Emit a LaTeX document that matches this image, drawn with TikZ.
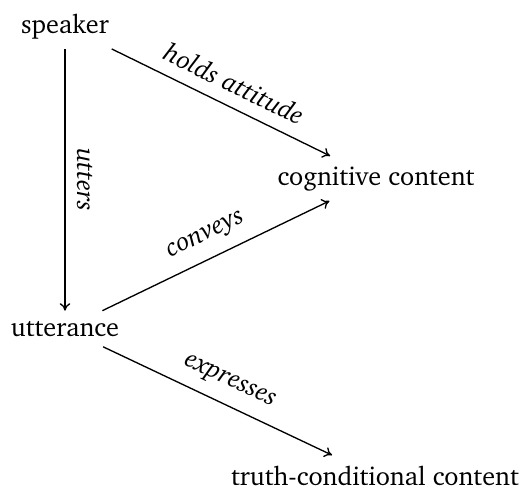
\documentclass[tikz,border=0pt]{standalone}
\usepackage[T1]{fontenc}
\usepackage{charter}
\usetikzlibrary{arrows.meta}
\begin{document}
\begin{tikzpicture}[x=0.45pt,y=-0.45pt,
  concept/.style={anchor=base,inner sep=4.5pt,font=\fontsize{11.8}{14}\selectfont},
  rel/.style={-{To[length=3.4pt,width=4.8pt]},line width=0.6pt},
  lbl/.style={font=\fontsize{11.8}{14}\selectfont\itshape,sloped,above,inner sep=5.5pt}]
\useasboundingbox (0,0) rectangle (527,488);
\node[concept] (spk) at (65,33) {speaker};
\node[concept] (utt) at (65,336) {utterance};
\node[concept] (cog) at (376,185) {cognitive content};
\node[concept] (tru) at (375,485) {truth-conditional content};
\draw[rel] (spk) -- node[pos=0.5,rotate=-90,anchor=south,inner sep=5pt,
  font=\fontsize{11.8}{14}\selectfont\itshape] {utters} (utt);
\draw[rel] (spk) -- node[lbl,pos=0.515] {holds attitude} (cog);
\draw[rel] (utt) -- node[lbl,pos=0.5] {conveys} (cog);
\draw[rel] (utt) -- node[lbl,pos=0.51] {expresses} (tru);
\end{tikzpicture}
\end{document}
